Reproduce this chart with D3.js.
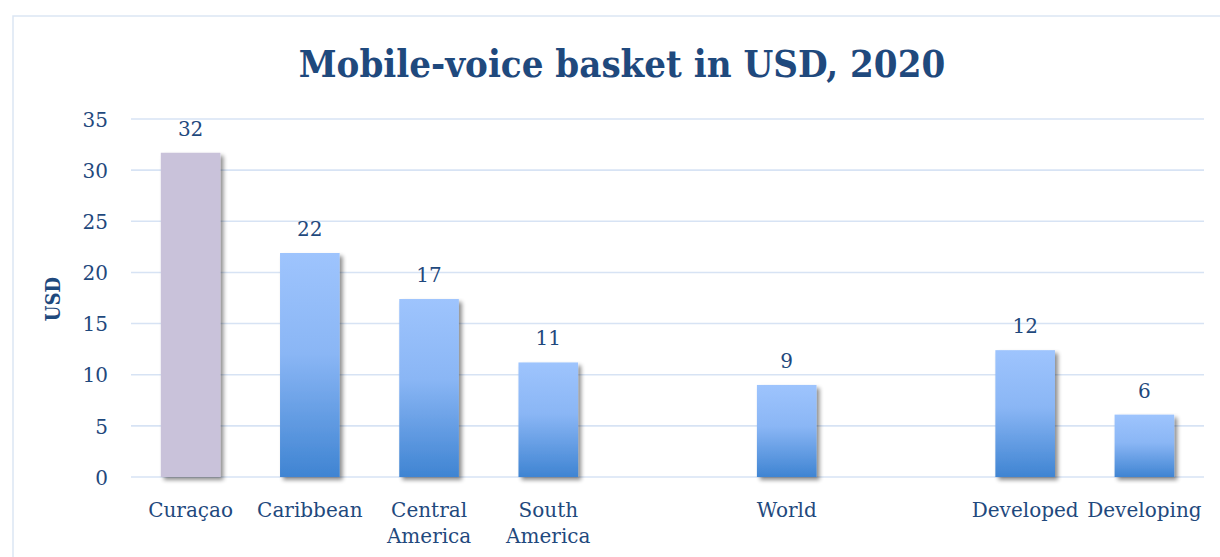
<!DOCTYPE html>
<html>
<head>
<meta charset="utf-8">
<script src="https://cdn.jsdelivr.net/npm/d3@7/dist/d3.min.js"></script>
<style>
  html, body { margin: 0; padding: 0; background: #ffffff; }
  svg { display: block; }
</style>
</head>
<body>
<svg id="chart" width="1220" height="557"></svg>
<script>
// Mobile-voice basket prices, USD, 2020 (empty strings are spacer slots)
const categories = ["Curaçao", "Caribbean", "Central America", "South America", "", "World", "", "Developed", "Developing"];
const values = [31.7, 21.9, 17.4, 11.2, null, 9.0, null, 12.4, 6.1];
const highlighted = ["Curaçao"];
const yTicks = [0, 5, 10, 15, 20, 25, 30, 35];
const titleText = "Mobile-voice basket in USD, 2020";
const yAxisTitle = "USD";

const W = 1220, H = 557;
const margin = { left: 131, right: 16, top: 119, bottom: 80 };
const plotRight = 1204;
const plotBottom = 477;

const textColor = "#1f497d";
const gridColor = "#d7e3f4";
const serif = "'DejaVu Serif', serif";
const serifBold = "'DejaVu Serif Condensed', 'DejaVu Serif', serif";

const svg = d3.select("#chart");

// defs: bar gradient and soft drop shadow
const defs = svg.append("defs");
const grad = defs.append("linearGradient")
  .attr("id", "barGrad").attr("x1", 0).attr("y1", 0).attr("x2", 0).attr("y2", 1);
grad.append("stop").attr("offset", "0%").attr("stop-color", "#9ec4fd");
grad.append("stop").attr("offset", "45%").attr("stop-color", "#8ab6f5");
grad.append("stop").attr("offset", "100%").attr("stop-color", "#3f84d2");

const shadow = defs.append("filter").attr("id", "shadow")
  .attr("x", "-20%").attr("y", "-5%").attr("width", "150%").attr("height", "115%");
shadow.append("feGaussianBlur").attr("in", "SourceAlpha").attr("stdDeviation", 2).attr("result", "blur");
shadow.append("feOffset").attr("in", "blur").attr("dx", 2.5).attr("dy", 2.5).attr("result", "off");
shadow.append("feComponentTransfer").attr("in", "off").attr("result", "offA")
  .append("feFuncA").attr("type", "linear").attr("slope", 0.45);
const merge = shadow.append("feMerge");
merge.append("feMergeNode").attr("in", "offA");
merge.append("feMergeNode").attr("in", "SourceGraphic");

// outer frame
svg.append("rect")
  .attr("x", 13).attr("y", 16).attr("width", W + 20).attr("height", H + 20)
  .attr("fill", "none").attr("stroke", "#dbe6f4").attr("stroke-width", 1.5);

// scales
const x = d3.scaleBand()
  .domain(d3.range(categories.length))
  .range([margin.left, plotRight])
  .paddingInner(0.5)
  .paddingOuter(0.25);

const y = d3.scaleLinear().domain([0, 35]).range([plotBottom, margin.top]);

// gridlines
svg.append("g")
  .selectAll("line")
  .data(yTicks)
  .join("line")
  .attr("x1", margin.left).attr("x2", plotRight)
  .attr("y1", d => y(d)).attr("y2", d => y(d))
  .attr("stroke", gridColor).attr("stroke-width", 1.6);

// y axis labels
const yAxis = d3.axisLeft(y).tickValues(yTicks).tickSize(0).tickPadding(0);
const yG = svg.append("g").attr("transform", `translate(108,0)`).call(yAxis);
yG.select(".domain").remove();
yG.selectAll("text")
  .attr("font-family", serif).attr("font-size", 20).attr("fill", textColor)
  .attr("dy", "0.36em");

// y axis title
svg.append("text")
  .attr("transform", `translate(60,${(y(0) + y(35)) / 2 + 1}) rotate(-90)`)
  .attr("text-anchor", "middle")
  .attr("font-family", serifBold).attr("font-weight", "bold").attr("font-size", 20)
  .attr("fill", textColor)
  .text(yAxisTitle);

// bars
const rows = categories.map((c, i) => ({ i, c, v: values[i] })).filter(d => d.v != null);

svg.append("g")
  .selectAll("rect")
  .data(rows)
  .join("rect")
  .attr("x", d => x(d.i))
  .attr("width", x.bandwidth())
  .attr("y", d => y(d.v))
  .attr("height", d => y(0) - y(d.v))
  .attr("fill", d => highlighted.includes(d.c) ? "#c9c2da" : "url(#barGrad)")
  .attr("filter", "url(#shadow)");

// value labels
const fmt = d3.format(".0f");
svg.append("g")
  .selectAll("text")
  .data(rows)
  .join("text")
  .attr("x", d => x(d.i) + x.bandwidth() / 2)
  .attr("y", d => y(d.v) - 17)
  .attr("text-anchor", "middle")
  .attr("font-family", serif).attr("font-size", 20).attr("fill", textColor)
  .text(d => fmt(d.v));

// category labels, wrapped to the slot width
const xAxis = d3.axisBottom(x).tickSize(0).tickFormat(i => categories[i]);
const xG = svg.append("g").attr("transform", `translate(0,${plotBottom})`).call(xAxis);
xG.select(".domain").remove();
xG.selectAll("text")
  .attr("font-family", serif).attr("font-size", 20).attr("fill", textColor)
  .attr("y", 40).attr("dy", 0)
  .each(function () {
    const t = d3.select(this);
    const words = t.text().split(/\s+/).filter(Boolean);
    const maxW = x.step();
    t.text(null);
    let line = [];
    let lineNo = 0;
    let tspan = t.append("tspan").attr("x", 0).attr("dy", 0);
    for (const w of words) {
      line.push(w);
      tspan.text(line.join(" "));
      if (tspan.node().getComputedTextLength() > maxW && line.length > 1) {
        line.pop();
        tspan.text(line.join(" "));
        line = [w];
        lineNo++;
        tspan = t.append("tspan").attr("x", 0).attr("dy", 26).text(w);
      }
    }
  });

// title
svg.append("text")
  .attr("x", 622).attr("y", 77)
  .attr("text-anchor", "middle")
  .attr("font-family", serifBold).attr("font-weight", "bold").attr("font-size", 38)
  .attr("fill", textColor)
  .text(titleText);
</script>
</body>
</html>
